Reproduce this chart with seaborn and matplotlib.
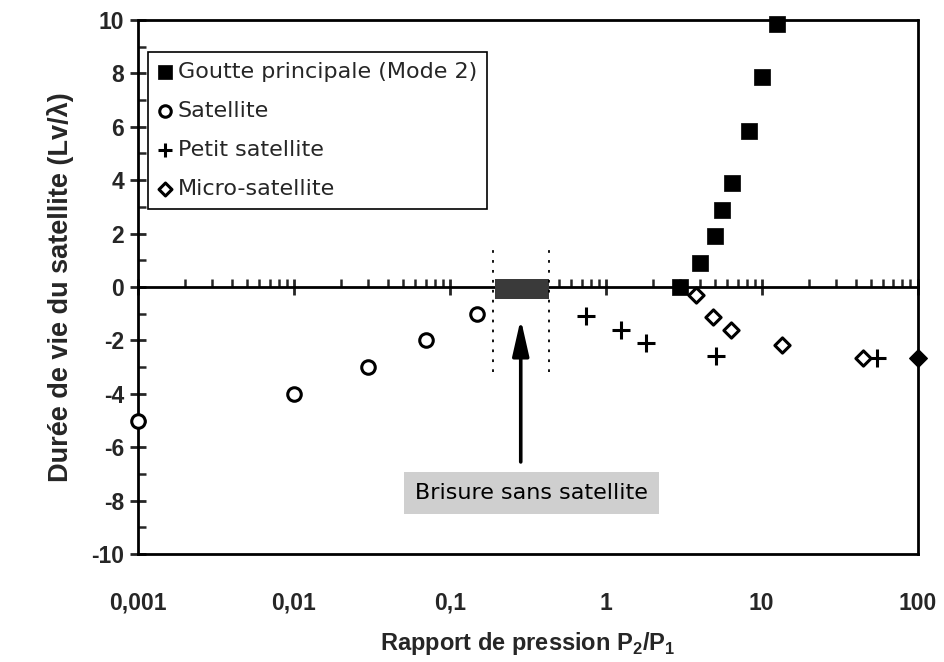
import matplotlib
matplotlib.use("Agg")
import matplotlib.pyplot as plt
from matplotlib.ticker import FixedLocator, LogLocator, MultipleLocator, NullFormatter
import seaborn as sns

# Goutte principale (mode 2)
goutte_x = [3.0, 4.0, 5.0, 5.6, 6.5, 8.3, 10.1, 12.5]
goutte_y = [0.0, 0.9, 1.9, 2.9, 3.9, 5.85, 7.85, 9.85]

# Satellite
satellite_x = [0.001, 0.01, 0.03, 0.07, 0.15]
satellite_y = [-5.0, -4.0, -3.0, -2.0, -1.0]

# Petit satellite
petit_x = [0.75, 1.25, 1.8, 5.1, 55.0]
petit_y = [-1.1, -1.6, -2.1, -2.6, -2.65]

# Micro-satellite
micro_x = [3.8, 4.9, 6.4, 13.6, 44.5]
micro_y = [-0.3, -1.12, -1.6, -2.17, -2.65]
micro_edge_x = [100.0]
micro_edge_y = [-2.65]

# Zone de brisure sans satellite
brisure_x = [0.195, 0.43]
brisure_y = [-0.45, 0.3]
limite_x = [0.19, 0.435]
limite_y = [-3.2, 1.65]
fleche_x = 0.285
fleche_y = [-6.55, -1.2]
brisure_label = "Brisure sans satellite"
brisure_text_pos = (0.335, -7.7)

x_ticks = [0.001, 0.01, 0.1, 1, 10, 100]
x_labels = ["0,001", "0,01", "0,1", "1", "10", "100"]
y_ticks = [-10, -8, -6, -4, -2, 0, 2, 4, 6, 8, 10]

sns.set_style("white")
plt.rcParams["font.family"] = ["Liberation Sans", "DejaVu Sans"]
plt.rcParams["axes.unicode_minus"] = False
plt.rcParams["mathtext.fontset"] = "custom"
plt.rcParams["mathtext.bf"] = "Liberation Sans:bold"
plt.rcParams["mathtext.rm"] = "Liberation Sans:bold"

fig = plt.figure(figsize=(9.45, 6.62), dpi=100)
ax = fig.add_axes([0.146, 0.163, 0.825, 0.807])
ax.set_xscale("log")

sns.scatterplot(x=goutte_x, y=goutte_y, marker="s", s=130, color="black",
                edgecolor="black", linewidth=0.5, ax=ax, zorder=5, clip_on=False,
                label="Goutte principale (Mode 2)")
sns.scatterplot(x=satellite_x, y=satellite_y, marker="o", s=95, color="white",
                edgecolor="black", linewidth=2.2, ax=ax, zorder=5, clip_on=False,
                label="Satellite")
sns.scatterplot(x=petit_x, y=petit_y, marker="+", s=160, color="black",
                linewidth=2.2, ax=ax, zorder=5, clip_on=False,
                label="Petit satellite")
sns.scatterplot(x=micro_x, y=micro_y, marker="D", s=60, color="white",
                edgecolor="black", linewidth=2.2, ax=ax, zorder=5, clip_on=False,
                label="Micro-satellite")
sns.scatterplot(x=micro_edge_x, y=micro_edge_y, marker="D", s=80, color="black",
                edgecolor="black", linewidth=1, ax=ax, zorder=6, clip_on=False,
                legend=False)

# shaded breakup region with its dotted limits
ax.fill_between(brisure_x, brisure_y[0], brisure_y[1], color="#3a3a3a", zorder=3,
                linewidth=0)
for xv in limite_x:
    ax.plot([xv, xv], limite_y, color="black", lw=1.3, ls=(0, (1.5, 4)), zorder=3)

ax.annotate("", xy=(fleche_x, fleche_y[1]), xytext=(fleche_x, fleche_y[0]),
            arrowprops=dict(arrowstyle="-|>,head_length=2.2,head_width=0.5",
                            color="black", lw=2.6, shrinkA=0, shrinkB=0),
            zorder=4)
ax.text(*brisure_text_pos, brisure_label, ha="center", va="center",
        fontsize=16, family=["DejaVu Sans"], color="black",
        bbox=dict(boxstyle="square,pad=0.5", facecolor="#cfcfcf",
                  edgecolor="none"))

ax.set_xlim(0.001, 100)
ax.set_ylim(-10, 10)

# top spine carries the x ticks along y = 0; frame top redrawn at y = 10
for side in ["left", "right", "bottom", "top"]:
    ax.spines[side].set_color("black")
    ax.spines[side].set_linewidth(2.0)
ax.spines["top"].set_position(("data", 0))
ax.axhline(10, color="black", lw=2.0, clip_on=False, zorder=2)

ax.xaxis.set_major_locator(FixedLocator(x_ticks))
ax.xaxis.set_minor_locator(LogLocator(base=10, subs=range(2, 10), numticks=20))
ax.xaxis.set_minor_formatter(NullFormatter())
ax.set_xticks(x_ticks)
ax.set_xticklabels(x_labels)
ax.tick_params(axis="x", which="both", bottom=False, top=True, labelbottom=True,
               labeltop=False)
ax.tick_params(axis="x", which="major", direction="inout", length=12, width=2.0,
               labelsize=16.5, pad=21)
ax.tick_params(axis="x", which="minor", direction="out", length=6, width=1.8)

ax.set_yticks(y_ticks)
ax.yaxis.set_minor_locator(MultipleLocator(1))
ax.tick_params(axis="y", which="both", left=True, right=False)
ax.tick_params(axis="y", which="major", direction="inout", length=12, width=2.0,
               labelsize=16.5, pad=4)
ax.tick_params(axis="y", which="minor", direction="in", length=6, width=1.8)
for lab in ax.get_xticklabels() + ax.get_yticklabels():
    lab.set_fontweight("bold")

ax.set_xlabel(r"Rapport de pression P$_{2}$/P$_{1}$", fontsize=17,
              fontweight="bold", labelpad=11)
ax.set_ylabel("Durée de vie du satellite (Lv/λ)", fontsize=19.5,
              fontweight="bold", labelpad=12)

leg = ax.legend(loc="upper left", bbox_to_anchor=(0.0128, 0.94), borderaxespad=0,
                frameon=True, fancybox=False, edgecolor="black", framealpha=1,
                handlelength=0.6, handletextpad=0.3, labelspacing=0.85,
                borderpad=0.45, prop={"family": ["DejaVu Sans"], "size": 16},
                markerscale=0.85)
leg.get_frame().set_linewidth(1.2)
leg.set_zorder(7)

fig.savefig("out.png", dpi=100, facecolor="white")
